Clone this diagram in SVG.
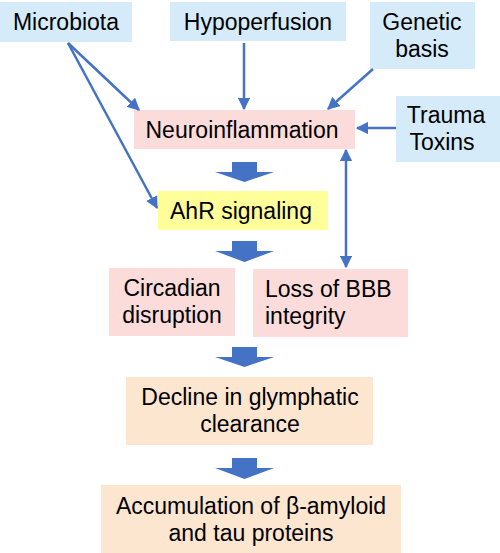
<svg xmlns="http://www.w3.org/2000/svg" width="500" height="553" viewBox="0 0 500 553">
<style>
text{font-family:"Liberation Sans",Arial,sans-serif;font-size:23px;fill:#000;text-anchor:middle}
.blue{fill:#d5ebfa}
.pink{fill:#fbdcdb}
.yel{fill:#ffff99}
.peach{fill:#fde6d0}
.ln{stroke:#4472c4;stroke-width:2.5;fill:none}
.blk{fill:#4472c4}
</style>
<defs>
<marker id="ah" viewBox="0 0 10 10" refX="9" refY="5" markerWidth="5" markerHeight="5" orient="auto-start-reverse" markerUnits="strokeWidth">
<path d="M0,0 L10,5 L0,10 z" fill="#4472c4"/>
</marker>
</defs>
<rect width="500" height="553" fill="#fff"/>
<g id="microbiota"><rect class="blue" x="0" y="2" width="132" height="40"/><text x="66" y="30">Microbiota</text></g>
<g id="hypoperfusion"><rect class="blue" x="170" y="2" width="176" height="39"/><text x="258" y="30">Hypoperfusion</text></g>
<g id="genetic"><rect class="blue" x="370" y="2" width="105" height="67"/><text x="422" y="30">Genetic</text><text x="422" y="57">basis</text></g>
<g id="trauma"><rect class="blue" x="396" y="96" width="104" height="66"/><text x="446" y="123">Trauma</text><text x="442" y="150">Toxins</text></g>
<g id="neuro"><rect class="pink" x="134" y="110" width="221" height="39"/><text x="242" y="138">Neuroinflammation</text></g>
<g id="ahr"><rect class="yel" x="158" y="191" width="170" height="39"/><text x="241" y="219">AhR signaling</text></g>
<g id="circadian"><rect class="pink" x="109" y="268" width="126" height="68"/><text x="172" y="296">Circadian</text><text x="172" y="323">disruption</text></g>
<g id="bbb"><rect class="pink" x="253" y="269" width="155" height="68"/><text x="265" y="297" style="text-anchor:start">Loss of BBB</text><text x="265" y="324" style="text-anchor:start">integrity</text></g>
<g id="decline"><rect class="peach" x="126" y="377" width="247" height="68"/><text x="250" y="405">Decline in glymphatic</text><text x="250" y="432">clearance</text></g>
<g id="accum"><rect class="peach" x="101" y="485" width="300" height="68"/><text x="251" y="514">Accumulation of β-amyloid</text><text x="251" y="541">and tau proteins</text></g>
<g id="connectors">
<line class="ln" x1="68" y1="43" x2="139" y2="110" marker-end="url(#ah)"/>
<line class="ln" x1="68" y1="43" x2="157" y2="208" marker-end="url(#ah)"/>
<line class="ln" x1="244" y1="43" x2="244" y2="109" marker-end="url(#ah)"/>
<line class="ln" x1="373" y1="69" x2="328" y2="109" marker-end="url(#ah)"/>
<line class="ln" x1="396" y1="128" x2="357" y2="128" marker-end="url(#ah)"/>
<line class="ln" x1="346" y1="150" x2="346" y2="267" marker-start="url(#ah)" marker-end="url(#ah)"/>
<path class="blk" d="M232,162 H257 V172 H274 L244.5,182 L215,172 H232 Z"/>
<path class="blk" d="M232,241 H257 V251 H274 L244.5,262 L215,251 H232 Z"/>
<path class="blk" d="M232,347 H257 V357 H274 L244.5,367 L215,357 H232 Z"/>
<path class="blk" d="M232,458 H257 V468 H274 L244.5,479 L215,468 H232 Z"/>
</g>
</svg>
